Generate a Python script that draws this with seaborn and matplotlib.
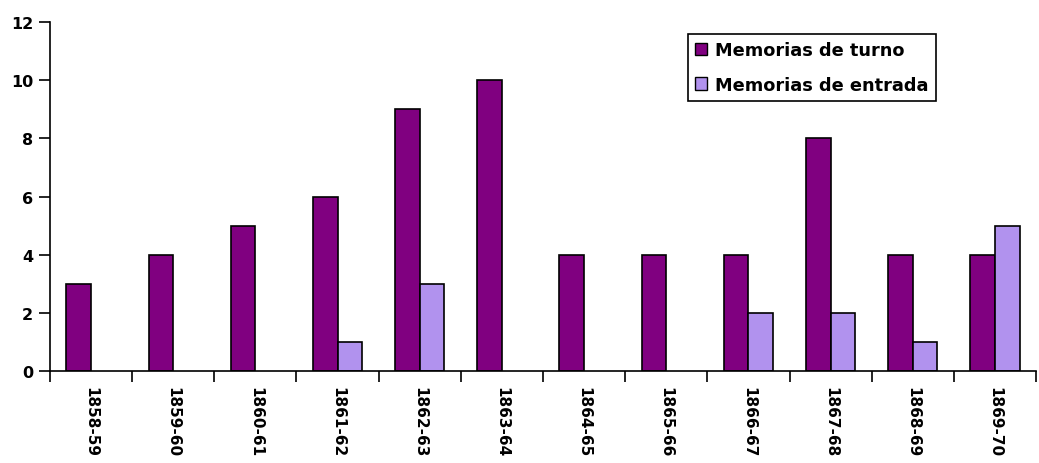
import numpy as np
import pandas as pd
import matplotlib
matplotlib.use("Agg")
import matplotlib.pyplot as plt
import seaborn as sns

periods = ["1858-59", "1859-60", "1860-61", "1861-62", "1862-63", "1863-64",
           "1864-65", "1865-66", "1866-67", "1867-68", "1868-69", "1869-70"]
turno = [3, 4, 5, 6, 9, 10, 4, 4, 4, 8, 4, 4]
entrada = [0, 0, 0, 1, 3, 0, 0, 0, 2, 2, 1, 5]
series_names = ["Memorias de turno", "Memorias de entrada"]
colors = ["#800080", "#B192EE"]

df = pd.DataFrame({
    "periodo": periods * 2,
    "valor": turno + entrada,
    "serie": [series_names[0]] * len(periods) + [series_names[1]] * len(periods),
})

sns.set_style("white")
plt.rcParams["font.family"] = ["DejaVu Sans"]
plt.rcParams["font.weight"] = "bold"
for key in ["text.color", "xtick.color", "ytick.color", "axes.labelcolor"]:
    plt.rcParams[key] = "black"

fig = plt.figure(figsize=(10.39, 4.64), dpi=100)
ax = fig.add_axes([50 / 1039, 1 - 372 / 464, (1036 - 50) / 1039, (372 - 23) / 464])

sns.barplot(data=df, x="periodo", y="valor", hue="serie", order=periods,
            hue_order=series_names, palette=colors, width=0.6, gap=0,
            edgecolor="black", linewidth=1.2, errorbar=None, ax=ax,
            saturation=1)

# zero-height bars should not leave an outline on the axis
for p in ax.patches:
    if p.get_height() == 0:
        p.set_linewidth(0)

ax.set_xlim(-0.5, len(periods) - 0.5)
ax.set_ylim(0, 12)
ax.set_yticks(np.arange(0, 13, 2))
ax.set_xlabel("")
ax.set_ylabel("")

# tick marks sit between categories, labels at category centres
ax.set_xticks(np.arange(-0.5, len(periods), 1))
ax.set_xticklabels([])
ax.set_xticks(np.arange(len(periods)), minor=True)
ax.set_xticklabels(periods, minor=True, rotation=270, fontsize=11,
                   fontweight="bold", va="top", ha="center", color="black")
ax.tick_params(axis="x", which="major", direction="out", length=8, width=1.2,
               bottom=True, color="black")
ax.tick_params(axis="x", which="minor", length=0, pad=11)
ax.tick_params(axis="y", direction="out", length=8, width=1.2, left=True,
               labelsize=11.5, color="black", labelcolor="black", pad=4)
for lbl in ax.get_yticklabels():
    lbl.set_fontweight("bold")

for side in ["top", "right"]:
    ax.spines[side].set_visible(False)
for side in ["left", "bottom"]:
    ax.spines[side].set_color("black")
    ax.spines[side].set_linewidth(1.2)

leg = ax.legend(loc="upper right", bbox_to_anchor=(0.8986, 0.966), frameon=True,
                fancybox=False, edgecolor="black", framealpha=1,
                prop={"weight": "bold", "size": 12.8}, handlelength=0.7,
                handleheight=0.7, handletextpad=0.45, borderpad=0.4,
                labelspacing=0.95, borderaxespad=0)
leg.get_frame().set_linewidth(1.2)
for h in leg.legend_handles:
    h.set_edgecolor("black")
    h.set_linewidth(1.0)

fig.savefig("out.png", dpi=100)
